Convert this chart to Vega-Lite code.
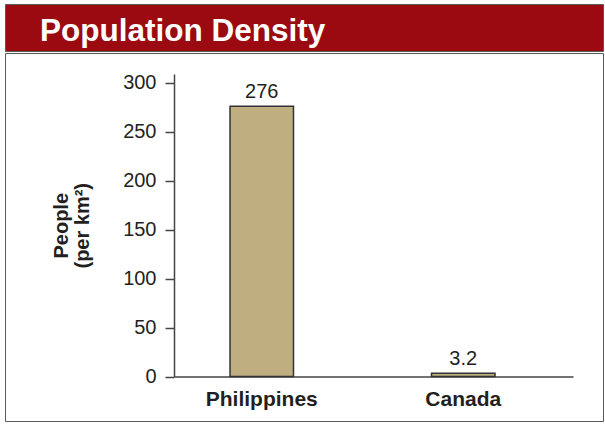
{
  "$schema": "https://vega.github.io/schema/vega-lite/v6.json",
  "padding": {"left": 4, "top": 3, "right": 2, "bottom": 4},
  "background": "white",
  "spacing": 0,
  "config": {
    "font": "Liberation Sans",
    "view": {"stroke": "#5a5a5a", "strokeWidth": 1}
  },
  "vconcat": [
    {
      "width": 598,
      "height": 47,
      "view": {"fill": "#9b0a10", "stroke": "#5a5a5a"},
      "title": {
        "text": "Population Density",
        "orient": "none",
        "anchor": "start",
        "frame": "group",
        "dx": 35,
        "dy": 37,
        "baseline": "alphabetic",
        "align": "left",
        "color": "white",
        "fontSize": 31.5,
        "fontWeight": "bold",
        "font": "Liberation Sans"
      },
      "data": {"values": []},
      "mark": "text"
    },
    {
      "width": 598,
      "height": 368,
      "view": {"fill": "white", "stroke": "#5a5a5a"},
      "data": {
        "values": [
          {"country": "Philippines", "density": 276},
          {"country": "Canada", "density": 3.2}
        ]
      },
      "encoding": {
        "x": {
          "field": "country",
          "type": "nominal",
          "sort": null,
          "scale": {"range": [169, 568], "paddingInner": 0.685, "paddingOuter": 0.3326, "align": 0.418},
          "axis": {
            "orient": "bottom",
            "offset": -44.5,
            "title": null,
            "labelAngle": 0,
            "ticks": false,
            "labelFontSize": 21,
            "labelFontWeight": "bold",
            "labelColor": "#231f20",
            "labelPadding": 12,
            "domainColor": "#444",
            "domainWidth": 1.5
          }
        },
        "y": {
          "field": "density",
          "type": "quantitative",
          "scale": {"domain": [0, 309], "range": [323.5, 21], "nice": false, "zero": true},
          "axis": {
            "offset": -169,
            "values": [0, 50, 100, 150, 200, 250, 300],
            "grid": false,
            "tickSize": 9,
            "tickColor": "#444",
            "tickWidth": 1.5,
            "domainColor": "#444",
            "domainWidth": 1.5,
            "labelFontSize": 20,
            "labelColor": "#231f20",
            "labelPadding": 9,
            "title": ["People", "(per km²)"],
            "titleFontSize": 20,
            "titleFontWeight": "bold",
            "titleColor": "#231f20",
            "titleLineHeight": 21,
            "titlePadding": 30
          }
        }
      },
      "layer": [
        {
          "mark": {"type": "bar", "color": "#bfae80", "stroke": "#333", "strokeWidth": 1.5}
        },
        {
          "mark": {"type": "text", "baseline": "alphabetic", "dy": -8, "fontSize": 20, "color": "#231f20"},
          "encoding": {"text": {"field": "density", "type": "quantitative"}}
        }
      ]
    }
  ]
}
